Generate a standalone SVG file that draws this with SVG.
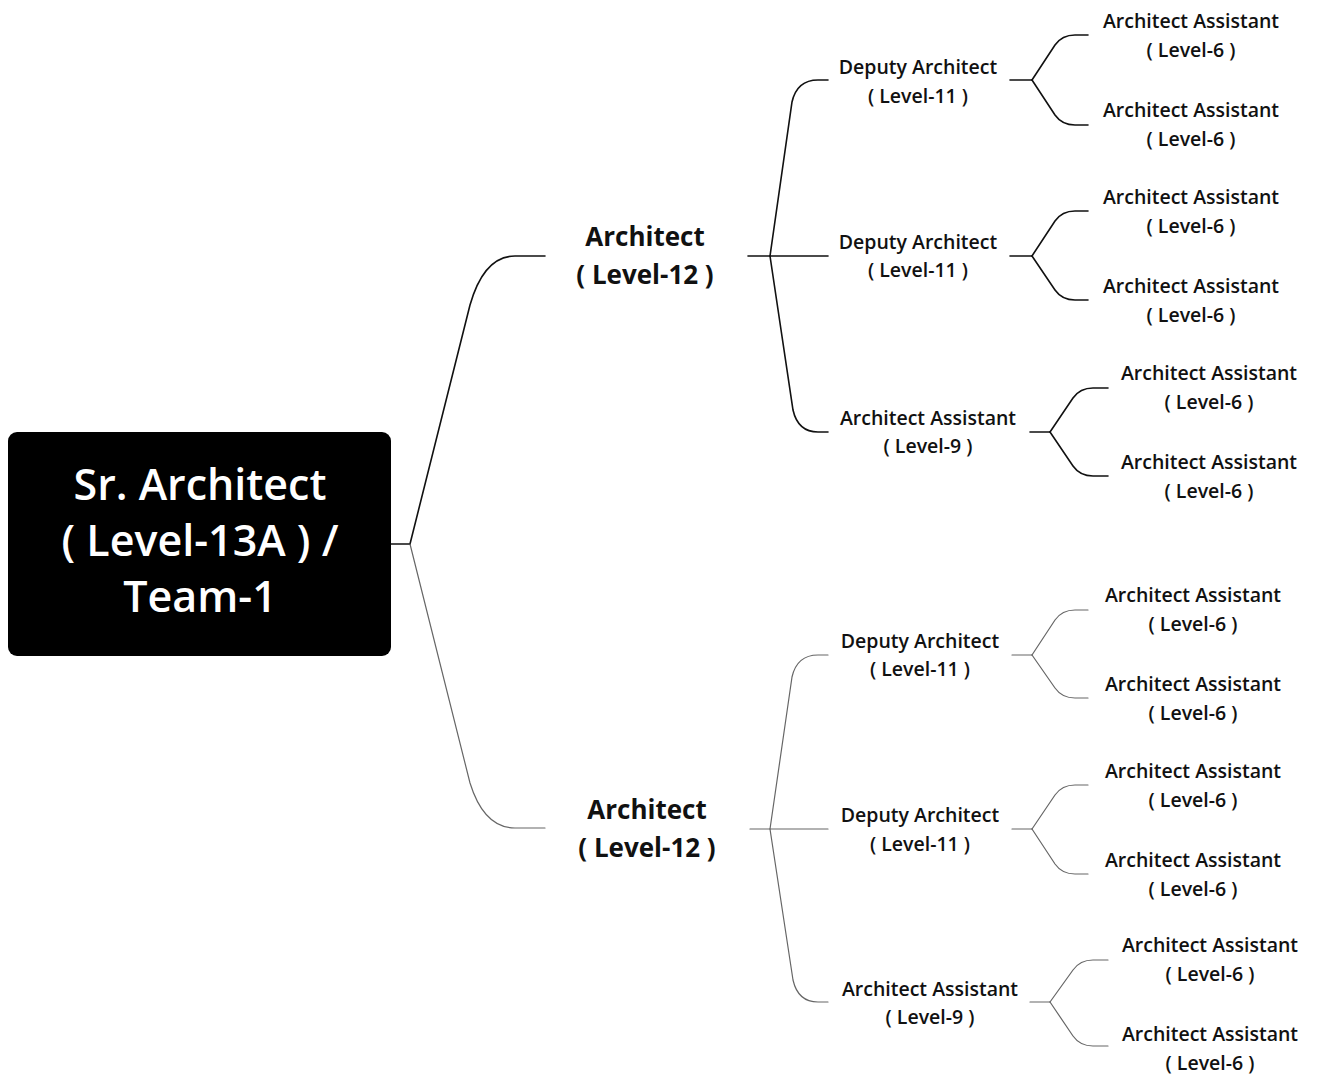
<svg xmlns="http://www.w3.org/2000/svg" width="1317" height="1077" viewBox="0 0 1317 1077">
<style>
  .t { font-family: "Open Sans", "Liberation Sans", sans-serif; fill: #111; text-anchor: middle; font-weight: 600; }
  .leaf { font-size: 19.5px; }
  .mid { font-size: 19.5px; }
  .arch { font-size: 26px; font-weight: bold; }
  .root { font-size: 43px; fill: #fff; }
  .c { fill: none; stroke: #111; stroke-width: 1.6; stroke-linecap: round; }
  .cl { fill: none; stroke: #666; stroke-width: 1.2; stroke-linecap: round; }
</style>
<rect width="1317" height="1077" fill="#fff"/>
<g id="connectors">
  <path class="c" d="M391 544 L410 544"/>
  <path class="c" d="M410 544 L470 305 Q484 256 515 256 L545 256"/>
  <path class="cl" d="M410 544 L470 783 Q484 828 515 828 L545 828"/>
  <path class="c" d="M748 256 L828 256"/>
  <path class="c" d="M770 256 L792 102 Q797 80 818 80 L828 80"/>
  <path class="c" d="M770 256 L793 410 Q798 432 818 432 L828 432"/>
  <path class="cl" d="M750 829 L828 829"/>
  <path class="cl" d="M770 829 L792 677 Q797 655 818 655 L828 655"/>
  <path class="cl" d="M770 829 L793 980 Q798 1002 818 1002 L828 1002"/>
  <path class="c" d="M1010 80 L1032 80"/>
  <path class="c" d="M1032 80 L1055 45 Q1062 35 1075 35 L1088 35"/>
  <path class="c" d="M1032 80 L1055 115 Q1062 125 1075 125 L1088 125"/>
  <path class="c" d="M1010 256 L1032 256"/>
  <path class="c" d="M1032 256 L1055 221 Q1062 211 1075 211 L1088 211"/>
  <path class="c" d="M1032 256 L1055 290 Q1062 300 1075 300 L1088 300"/>
  <path class="c" d="M1030 432 L1050 432"/>
  <path class="c" d="M1050 432 L1073 398 Q1080 388 1093 388 L1108 388"/>
  <path class="c" d="M1050 432 L1073 466 Q1080 476 1093 476 L1108 476"/>
  <path class="cl" d="M1012 655 L1032 655"/>
  <path class="cl" d="M1032 655 L1055 620 Q1062 610 1075 610 L1088 610"/>
  <path class="cl" d="M1032 655 L1055 688 Q1062 698 1075 698 L1088 698"/>
  <path class="cl" d="M1012 829 L1032 829"/>
  <path class="cl" d="M1032 829 L1055 795 Q1062 785 1075 785 L1088 785"/>
  <path class="cl" d="M1032 829 L1055 864 Q1062 874 1075 874 L1088 874"/>
  <path class="cl" d="M1030 1002 L1050 1002"/>
  <path class="cl" d="M1050 1002 L1073 970 Q1080 960 1093 960 L1108 960"/>
  <path class="cl" d="M1050 1002 L1073 1036 Q1080 1046 1093 1046 L1108 1046"/>
</g>
<g id="root">
  <rect x="8" y="432" width="383" height="224" rx="9" fill="#000"/>
  <text class="t root" x="200" y="500">Sr. Architect</text>
  <text class="t root" x="200" y="556">( Level-13A ) /</text>
  <text class="t root" x="200" y="612">Team-1</text>
</g>
<g id="arch1">
  <text class="t arch" x="645" y="246">Architect</text>
  <text class="t arch" x="645" y="284">( Level-12 )</text>
</g>
<g id="arch2">
  <text class="t arch" x="647" y="819">Architect</text>
  <text class="t arch" x="647" y="857">( Level-12 )</text>
</g>
<g id="dep1"><text class="t mid" x="918" y="74">Deputy Architect</text><text class="t mid" x="918" y="103">( Level-11 )</text></g>
<g id="dep2"><text class="t mid" x="918" y="249">Deputy Architect</text><text class="t mid" x="918" y="277">( Level-11 )</text></g>
<g id="aa9a"><text class="t mid" x="928" y="425">Architect Assistant</text><text class="t mid" x="928" y="453">( Level-9 )</text></g>
<g id="dep3"><text class="t mid" x="920" y="648">Deputy Architect</text><text class="t mid" x="920" y="676">( Level-11 )</text></g>
<g id="dep4"><text class="t mid" x="920" y="822">Deputy Architect</text><text class="t mid" x="920" y="851">( Level-11 )</text></g>
<g id="aa9b"><text class="t mid" x="930" y="996">Architect Assistant</text><text class="t mid" x="930" y="1024">( Level-9 )</text></g>
<g id="l1"><text class="t leaf" x="1191" y="28">Architect Assistant</text><text class="t leaf" x="1191" y="57">( Level-6 )</text></g>
<g id="l2"><text class="t leaf" x="1191" y="117">Architect Assistant</text><text class="t leaf" x="1191" y="146">( Level-6 )</text></g>
<g id="l3"><text class="t leaf" x="1191" y="204">Architect Assistant</text><text class="t leaf" x="1191" y="233">( Level-6 )</text></g>
<g id="l4"><text class="t leaf" x="1191" y="293">Architect Assistant</text><text class="t leaf" x="1191" y="322">( Level-6 )</text></g>
<g id="l5"><text class="t leaf" x="1209" y="380">Architect Assistant</text><text class="t leaf" x="1209" y="409">( Level-6 )</text></g>
<g id="l6"><text class="t leaf" x="1209" y="469">Architect Assistant</text><text class="t leaf" x="1209" y="498">( Level-6 )</text></g>
<g id="l7"><text class="t leaf" x="1193" y="602">Architect Assistant</text><text class="t leaf" x="1193" y="631">( Level-6 )</text></g>
<g id="l8"><text class="t leaf" x="1193" y="691">Architect Assistant</text><text class="t leaf" x="1193" y="720">( Level-6 )</text></g>
<g id="l9"><text class="t leaf" x="1193" y="778">Architect Assistant</text><text class="t leaf" x="1193" y="807">( Level-6 )</text></g>
<g id="l10"><text class="t leaf" x="1193" y="867">Architect Assistant</text><text class="t leaf" x="1193" y="896">( Level-6 )</text></g>
<g id="l11"><text class="t leaf" x="1210" y="952">Architect Assistant</text><text class="t leaf" x="1210" y="981">( Level-6 )</text></g>
<g id="l12"><text class="t leaf" x="1210" y="1041">Architect Assistant</text><text class="t leaf" x="1210" y="1070">( Level-6 )</text></g>
</svg>
